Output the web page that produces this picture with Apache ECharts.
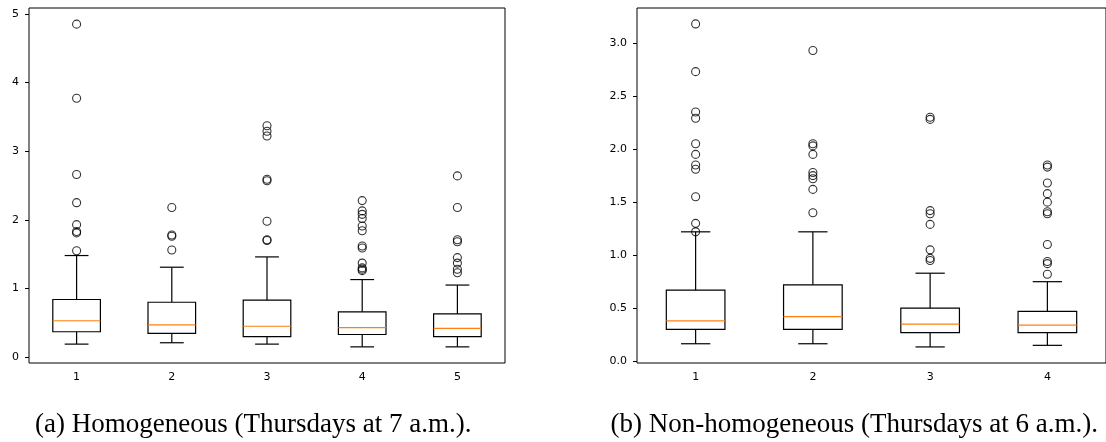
<!DOCTYPE html>
<html>
<head>
<meta charset="utf-8">
<script src="https://cdn.jsdelivr.net/npm/echarts@6/dist/echarts.min.js"></script>
<style>
  html, body { margin: 0; padding: 0; background: #fff; }
  #chart { width: 1106px; height: 442px; }
</style>
</head>
<body>
<div id="chart"></div>
<script>
// (a) Homogeneous - five groups
const leftCats = ['1', '2', '3', '4', '5'];
const leftLow = [0.19, 0.21, 0.19, 0.15, 0.15];
const leftQ1 = [0.37, 0.345, 0.30, 0.33, 0.30];
const leftMedian = [0.53, 0.47, 0.45, 0.43, 0.42];
const leftQ3 = [0.84, 0.80, 0.83, 0.66, 0.63];
const leftHigh = [1.48, 1.31, 1.46, 1.13, 1.05];
const leftOutliers = [
    [1.55, 1.81, 1.83, 1.93, 2.25, 2.66, 3.77, 4.85],
    [1.56, 1.76, 1.78, 2.18],
    [1.70, 1.71, 1.98, 2.57, 2.59, 3.22, 3.29, 3.37],
    [1.26, 1.28, 1.30, 1.37, 1.59, 1.62, 1.84, 1.91, 2.02, 2.08, 2.13, 2.28],
    [1.23, 1.28, 1.37, 1.45, 1.68, 1.71, 2.18, 2.64]
];
const leftTicks = [0, 1, 2, 3, 4, 5];

// (b) Non-homogeneous - four groups
const rightCats = ['1', '2', '3', '4'];
const rightLow = [0.165, 0.165, 0.135, 0.15];
const rightQ1 = [0.30, 0.30, 0.27, 0.27];
const rightMedian = [0.38, 0.42, 0.35, 0.34];
const rightQ3 = [0.67, 0.72, 0.50, 0.47];
const rightHigh = [1.22, 1.22, 0.83, 0.75];
const rightOutliers = [
    [1.22, 1.30, 1.55, 1.81, 1.85, 1.95, 2.05, 2.29, 2.35, 2.73, 3.18],
    [1.40, 1.62, 1.72, 1.75, 1.78, 1.95, 2.03, 2.05, 2.93],
    [0.95, 0.97, 1.05, 1.29, 1.39, 1.42, 2.28, 2.30],
    [0.82, 0.92, 0.94, 1.10, 1.39, 1.41, 1.50, 1.58, 1.68, 1.83, 1.85]
];
const rightTicks = [0, 0.5, 1.0, 1.5, 2.0, 2.5, 3.0];

const captions = ['(a) Homogeneous (Thursdays at 7 a.m.).', '(b) Non-homogeneous (Thursdays at 6 a.m.).'];

const chart = echarts.init(document.getElementById('chart'));

function boxRows(low, q1, med, q3, high) {
    return low.map((v, i) => [i, v, q1[i], med[i], q3[i], high[i]]);
}
function outlierPoints(groups) {
    const pts = [];
    groups.forEach((g, i) => g.forEach(v => pts.push([i, v])));
    return pts;
}

// matplotlib-style box: box width 0.5, caps 0.25, orange median
function renderBox(params, api) {
    const x = api.value(0);
    const lo = api.coord([x, api.value(1)]);
    const q1 = api.coord([x, api.value(2)]);
    const med = api.coord([x, api.value(3)]);
    const q3 = api.coord([x, api.value(4)]);
    const hi = api.coord([x, api.value(5)]);
    const band = api.size([1, 0])[0];
    const bw = band * 0.5, cw = band * 0.25;
    const cx = lo[0];
    const black = { stroke: '#000', lineWidth: 1.2, fill: null };
    const line = (x1, y1, x2, y2, style) => ({
        type: 'line', shape: { x1: x1, y1: y1, x2: x2, y2: y2 }, style: style
    });
    return {
        type: 'group',
        children: [
            line(cx, q1[1], cx, lo[1], black),
            line(cx, q3[1], cx, hi[1], black),
            line(cx - cw / 2, lo[1], cx + cw / 2, lo[1], black),
            line(cx - cw / 2, hi[1], cx + cw / 2, hi[1], black),
            { type: 'rect', shape: { x: cx - bw / 2, y: q3[1], width: bw, height: q1[1] - q3[1] }, style: black },
            line(cx - bw / 2, med[1], cx + bw / 2, med[1], { stroke: '#ff7f0e', lineWidth: 1.2 })
        ]
    };
}

const tickFont = { fontFamily: 'DejaVu Sans', fontSize: 11, color: '#000' };

function xAxis(gridIndex, cats) {
    return {
        type: 'category', gridIndex: gridIndex, data: cats, boundaryGap: true,
        axisLine: { show: false },
        axisTick: { alignWithLabel: true, length: 4, lineStyle: { color: '#000' } },
        axisLabel: Object.assign({ margin: 9 }, tickFont),
        splitLine: { show: false }
    };
}
function yAxis(gridIndex, min, max, ticks, digits) {
    return {
        type: 'value', gridIndex: gridIndex, min: min, max: max,
        axisLine: { show: false },
        axisTick: { show: true, length: 4, customValues: ticks, lineStyle: { color: '#000' } },
        axisLabel: Object.assign({
            margin: 10, customValues: ticks,
            formatter: v => v.toFixed(digits)
        }, tickFont),
        splitLine: { show: false }
    };
}

const captionStyle = { fontFamily: 'Liberation Serif', fontSize: 27, fill: '#000', verticalAlign: 'middle' };

const option = {
    backgroundColor: '#fff',
    animation: false,
    grid: [
        { left: 29, top: 8, width: 476, height: 355, show: true, borderColor: '#000', borderWidth: 1 },
        { left: 637, top: 8, width: 477, height: 355, show: true, borderColor: '#000', borderWidth: 1 }
    ],
    xAxis: [xAxis(0, leftCats), xAxis(1, rightCats)],
    yAxis: [
        yAxis(0, -0.085, 5.085, leftTicks, 0),
        yAxis(1, -0.0165, 3.33, rightTicks, 1)
    ],
    series: [
        {
            type: 'custom', xAxisIndex: 0, yAxisIndex: 0,
            renderItem: renderBox,
            encode: { x: 0, y: [1, 2, 3, 4, 5] },
            data: boxRows(leftLow, leftQ1, leftMedian, leftQ3, leftHigh)
        },
        {
            type: 'scatter', xAxisIndex: 0, yAxisIndex: 0,
            symbol: 'circle', symbolSize: 8,
            itemStyle: { color: 'rgba(0,0,0,0)', borderColor: '#000', borderWidth: 1.1 },
            data: outlierPoints(leftOutliers)
        },
        {
            type: 'custom', xAxisIndex: 1, yAxisIndex: 1,
            renderItem: renderBox,
            encode: { x: 0, y: [1, 2, 3, 4, 5] },
            data: boxRows(rightLow, rightQ1, rightMedian, rightQ3, rightHigh)
        },
        {
            type: 'scatter', xAxisIndex: 1, yAxisIndex: 1,
            symbol: 'circle', symbolSize: 8,
            itemStyle: { color: 'rgba(0,0,0,0)', borderColor: '#000', borderWidth: 1.1 },
            data: outlierPoints(rightOutliers)
        }
    ],
    graphic: [
        {
            type: 'text', x: 35, y: 425,
            style: Object.assign({ text: captions[0], align: 'left' }, captionStyle)
        },
        {
            type: 'text', x: 1098, y: 425,
            style: Object.assign({ text: captions[1], align: 'right' }, captionStyle)
        }
    ]
};

chart.setOption(option);
</script>
</body>
</html>
